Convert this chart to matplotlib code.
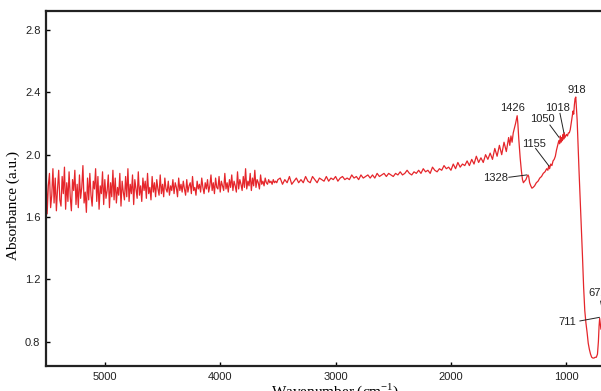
import numpy as np
import matplotlib
matplotlib.use("Agg")
import matplotlib.pyplot as plt

plt.rcParams["mathtext.fontset"] = "custom"
plt.rcParams["mathtext.rm"] = "Liberation Serif"

# noisy high-wavenumber region, 5510 -> 3500 cm-1 every 10 cm-1
wn_noisy = np.arange(5510, 3499, -10)
abs_noisy = [
    1.94, 1.62, 1.80, 1.88, 1.66, 1.74, 1.91, 1.69, 1.85, 1.64, 1.78, 1.90, 1.71, 1.67, 1.86, 1.75, 1.92, 1.65, 1.82, 1.70,
    1.89, 1.73, 1.64, 1.84, 1.77, 1.90, 1.68, 1.81, 1.66, 1.87, 1.72, 1.79, 1.93, 1.69, 1.76, 1.63, 1.85, 1.71, 1.88, 1.74,
    1.67, 1.83, 1.78, 1.91, 1.70, 1.86, 1.65, 1.80, 1.75, 1.89, 1.68, 1.84, 1.72, 1.77, 1.87, 1.66, 1.82, 1.73, 1.90, 1.71,
    1.85, 1.69, 1.79, 1.74, 1.88, 1.67, 1.83, 1.76, 1.71, 1.86, 1.73, 1.91, 1.70, 1.81, 1.75, 1.87, 1.68, 1.84, 1.78, 1.72,
    1.89, 1.74, 1.80, 1.70, 1.85, 1.77, 1.83, 1.72, 1.88, 1.75, 1.79, 1.71, 1.86, 1.76, 1.82, 1.73, 1.84, 1.78, 1.74, 1.87,
    1.75, 1.81, 1.73, 1.85, 1.78, 1.76, 1.83, 1.74, 1.80, 1.77, 1.84, 1.75, 1.82, 1.79, 1.73, 1.85, 1.77, 1.81, 1.76, 1.83,
    1.78, 1.74, 1.84, 1.76, 1.80, 1.82, 1.75, 1.86, 1.77, 1.79, 1.74, 1.83, 1.78, 1.81, 1.76, 1.85, 1.79, 1.75, 1.82, 1.78,
    1.84, 1.76, 1.80, 1.87, 1.77, 1.82, 1.75, 1.85, 1.79, 1.78, 1.86, 1.76, 1.83, 1.80, 1.77, 1.88, 1.78, 1.82, 1.76, 1.84,
    1.79, 1.87, 1.77, 1.83, 1.80, 1.76, 1.89, 1.78, 1.84, 1.81, 1.77, 1.86, 1.79, 1.91, 1.78, 1.83, 1.80, 1.88, 1.77, 1.85,
    1.80, 1.90, 1.79, 1.84, 1.82, 1.78, 1.87, 1.81, 1.83, 1.80, 1.85, 1.82, 1.81, 1.84, 1.82, 1.83, 1.81, 1.84, 1.82, 1.83,
    1.82, 1.84,
]

# quieter middle region, 3480 -> 1500 cm-1 every 20 cm-1
wn_mid = np.arange(3480, 1499, -20)
abs_mid = [
    1.85, 1.81, 1.84, 1.82, 1.86, 1.81, 1.83, 1.85, 1.82, 1.84,
    1.82, 1.86, 1.83, 1.82, 1.86, 1.84, 1.82, 1.85, 1.84, 1.83,
    1.86, 1.83, 1.85, 1.84, 1.86, 1.83, 1.85, 1.86, 1.84, 1.85,
    1.84, 1.87, 1.85, 1.86, 1.84, 1.87, 1.85, 1.86, 1.87, 1.85,
    1.87, 1.85, 1.88, 1.86, 1.87, 1.88, 1.86, 1.88, 1.87, 1.86,
    1.88, 1.87, 1.89, 1.87, 1.88, 1.90, 1.88, 1.87, 1.89, 1.88,
    1.90, 1.88, 1.91, 1.89, 1.90, 1.88, 1.92, 1.90, 1.89, 1.91,
    1.90, 1.93, 1.91, 1.92, 1.90, 1.94, 1.91, 1.95, 1.92, 1.94,
    1.93, 1.96, 1.93, 1.97, 1.94, 1.99, 1.95, 1.98, 1.95, 2.00,
    1.97, 2.01, 1.97, 2.04, 1.99, 2.06, 2.00, 2.08, 2.02, 2.11,
]

# band region
wn_bands = [1490, 1480, 1470, 1460, 1450, 1440, 1432, 1426, 1420, 1412, 1400, 1390,
            1380, 1372, 1362, 1350, 1340, 1332, 1326, 1318, 1308, 1298, 1288, 1275,
            1260, 1245, 1230, 1215, 1200, 1185, 1170, 1160, 1152, 1145, 1135, 1125,
            1115, 1105, 1095, 1085, 1075, 1065, 1058, 1052, 1046, 1040, 1034, 1028,
            1022, 1018, 1012, 1005, 998, 990, 982, 974, 966, 958, 950, 942, 936, 930,
            924, 918, 912, 906, 900, 890, 880, 870, 860, 850, 840, 830, 820, 810, 800,
            790, 780, 770, 760, 750, 740, 730, 722, 716, 711, 706, 700, 692, 684, 678,
            672, 664, 655]
abs_bands = [2.06, 2.12, 2.08, 2.14, 2.17, 2.20, 2.23, 2.25, 2.20, 2.10, 1.98, 1.90,
             1.84, 1.82, 1.83, 1.84, 1.86, 1.87, 1.86, 1.82, 1.80, 1.785, 1.79, 1.80,
             1.82, 1.83, 1.85, 1.86, 1.88, 1.89, 1.91, 1.90, 1.93, 1.91, 1.94, 1.93,
             1.96, 1.97, 1.99, 2.03, 2.06, 2.09, 2.07, 2.12, 2.08, 2.11, 2.09, 2.13,
             2.10, 2.14, 2.11, 2.12, 2.13, 2.12, 2.14, 2.14, 2.16, 2.20, 2.24, 2.28, 2.26, 2.32,
             2.36, 2.37, 2.30, 2.22, 2.10, 1.90, 1.72, 1.55, 1.35, 1.15, 1.00, 0.92, 0.86, 0.79, 0.75,
             0.72, 0.70, 0.695, 0.695, 0.70, 0.70, 0.72, 0.80, 0.90, 0.95, 0.92, 0.88, 0.90, 0.93, 0.96,
             0.97, 0.94, 0.92]

# peak labels: text, text position, leader start, leader end
labels = ["1426", "918", "1328", "1155", "1050", "1018", "711", "672"]
label_xy = [(1468, 2.27), (905, 2.38), (1506, 1.85), (1281, 2.07), (1208, 2.23),
            (1078, 2.30), (911, 0.925), (728, 1.11)]
label_ha = ["center", "center", "right", "center", "center", "center", "right", "center"]
leader_from = [None, None, (1498, 1.855), (1266, 2.04), (1142, 2.19), (1055, 2.265),
               (882, 0.933), (703, 1.06)]
leader_to = [None, None, (1344, 1.87), (1151, 1.928), (1064, 2.112), (1021, 2.141),
             (714, 0.956), (680, 0.98)]

wn = np.concatenate([wn_noisy, wn_mid, wn_bands])
absorb = np.concatenate([abs_noisy, abs_mid, abs_bands])

fig = plt.figure(figsize=(6.01, 3.91), dpi=100)
ax = fig.add_axes([46 / 601, 25 / 391, 578 / 601, 355 / 391])

ax.plot(wn, absorb, color="#e5262b", lw=0.9)

for t, (tx, ty), ha, p0, p1 in zip(labels, label_xy, label_ha, leader_from, leader_to):
    ax.text(tx, ty, t, ha=ha, va="center" if p0 is not None else "bottom",
            fontsize=8, color="#222222", family="Liberation Sans")
    if p0 is not None:
        ax.plot([p0[0], p1[0]], [p0[1], p1[1]], color="#222222", lw=0.7)

ax.set_xlim(5510, 500)
ax.set_ylim(0.644, 2.922)
ax.set_xticks([5000, 4000, 3000, 2000, 1000])
ax.set_yticks([0.8, 1.2, 1.6, 2.0, 2.4, 2.8])
ax.set_yticklabels(["0.8", "1.2", "1.6", "2.0", "2.4", "2.8"])

ax.tick_params(direction="in", length=3, width=1, pad=4, labelsize=8,
               labelcolor="#222222", top=False, right=False)
for lab in ax.get_xticklabels() + ax.get_yticklabels():
    lab.set_family("Liberation Sans")
for s in ax.spines.values():
    s.set_linewidth(1.6)
    s.set_color("#222222")

ax.set_xlabel("Wavenumber (cm$^{-1}$)", family="Liberation Serif", fontsize=11, labelpad=0)
ax.set_ylabel("Absorbance (a.u.)", family="Liberation Serif", fontsize=11)
ax.yaxis.set_label_coords(-0.045, 0.453)

fig.savefig("out.png", dpi=100)
